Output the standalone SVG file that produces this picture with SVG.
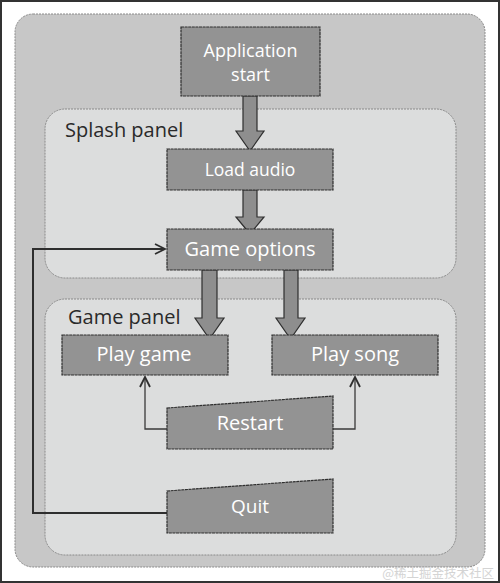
<svg xmlns="http://www.w3.org/2000/svg" width="500" height="583" viewBox="0 0 500 583">
<defs>
<style>
.panel{stroke:#8a8a8a;stroke-width:1;stroke-dasharray:2 1}
.box{fill:#939393;stroke:#2e2e2e;stroke-width:1.2;stroke-dasharray:3 0.6}
.barrow{fill:#8e8e8e;stroke:#2e2e2e;stroke-width:1.2}
.bt{font-family:"Open Sans","Noto Sans",sans-serif;fill:#ffffff;text-anchor:middle}
.pt{font-family:"Open Sans","Noto Sans",sans-serif;fill:#2a2a2a;font-size:20px}
.line{fill:none;stroke:#3a3a3a;stroke-width:1.3}
.qline{fill:none;stroke:#2e2e2e;stroke-width:2}
</style>
<marker id="open" viewBox="0 0 12 12" refX="11" refY="6" markerWidth="12" markerHeight="12" markerUnits="userSpaceOnUse" orient="auto">
<path d="M1,1 L11,6 L1,11" fill="none" stroke="#2e2e2e" stroke-width="1.8"/>
</marker>
</defs>
<rect x="0" y="0" width="500" height="583" fill="#ffffff"/>
<rect x="1" y="1" width="498" height="581" fill="none" stroke="#333333" stroke-width="2"/>
<g id="app-panel"><rect class="panel" x="15" y="14" width="470" height="553" rx="18" fill="#c7c7c7"/></g>
<g id="splash-panel">
<rect class="panel" x="45" y="109" width="411" height="169" rx="20" fill="#dcdddd"/>
<text class="pt" x="65" y="137">Splash panel</text>
</g>
<g id="game-panel">
<rect class="panel" x="45" y="299" width="411" height="256" rx="20" fill="#dcdddd"/>
<text class="pt" x="68" y="324">Game panel</text>
</g>
<g id="connectors">
<path class="barrow" d="M243,96 V131 H236 L250,151 L264,131 H257 V96 Z"/>
<path class="barrow" d="M243,190 V217 H236 L250,234 L264,217 H257 V190 Z"/>
<path class="barrow" d="M202,270 V318 H195 L209.5,339 L224,318 H217 V270 Z"/>
<path class="barrow" d="M284,270 V318 H276 L290.5,339 L305,318 H298 V270 Z"/>
<path class="line" d="M167,429 H145 V377" marker-end="url(#open)"/>
<path class="line" d="M333,429 H355 V377" marker-end="url(#open)"/>
<path class="qline" d="M167,513 H33 V249 H165" marker-end="url(#open)"/>
</g>
<g id="app-start">
<rect class="box" x="181" y="27" width="139" height="69"/>
<text class="bt" x="250.5" y="57" font-size="18">Application</text>
<text class="bt" x="250.5" y="81" font-size="18">start</text>
</g>
<g id="load-audio">
<rect class="box" x="167" y="149" width="166" height="41"/>
<text class="bt" x="250" y="176" font-size="17.5">Load audio</text>
</g>
<g id="game-options">
<rect class="box" x="167" y="229" width="166" height="41"/>
<text class="bt" x="250" y="256" font-size="20">Game options</text>
</g>
<g id="play-game">
<rect class="box" x="62" y="335" width="166" height="40"/>
<text class="bt" x="144" y="361" font-size="20">Play game</text>
</g>
<g id="play-song">
<rect class="box" x="272" y="335" width="166" height="40"/>
<text class="bt" x="355" y="361" font-size="20">Play song</text>
</g>
<g id="restart">
<path class="box" d="M167,408 L333,396 V449 H167 Z"/>
<text class="bt" x="250" y="430" font-size="20">Restart</text>
</g>
<g id="quit">
<path class="box" d="M167,491 L333,479 V533 H167 Z"/>
<text class="bt" x="250" y="513" font-size="19">Quit</text>
</g>
<text x="494" y="578" font-family="'Noto Sans CJK SC',sans-serif" font-size="12.5" fill="#d4d4d4" text-anchor="end">@稀土掘金技术社区</text>
</svg>
